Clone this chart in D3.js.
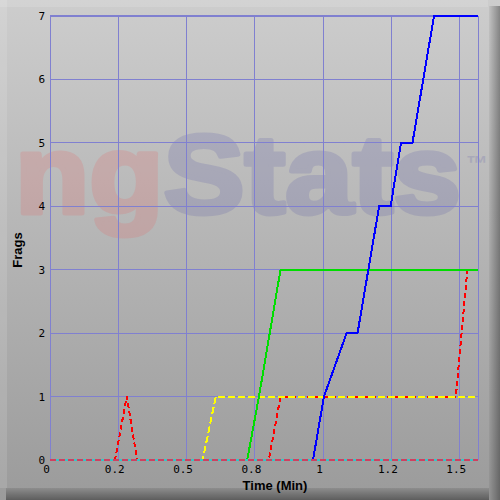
<html>
  <head>
    <script src="https://d3js.org/d3.v7.min.js"></script>
  </head>
  <body style="margin:0;">
    <div id="chart" style="width:500px;height:500px;"></div>
    <script>
      // data (time in minutes, cumulative frags)
      const xTicks = [0, 0.25, 0.5, 0.75, 1, 1.25, 1.5];
      const xTickLabels = ["0", "0.2", "0.5", "0.8", "1", "1.2", "1.5"];
      const yTicks = [0, 1, 2, 3, 4, 5, 6, 7];

      const redTimes = [0, 0.238, 0.281, 0.319, 0.801, 0.844, 1.486, 1.528];
      const redFrags = [0, 0, 1, 0, 0, 1, 1, 3];
      const yellowTimes = [0, 0.559, 0.607, 1.567];
      const yellowFrags = [0, 0, 1, 1];
      const greenTimes = [0, 0.722, 0.765, 0.844, 1.567];
      const greenFrags = [0, 0, 1, 3, 3];
      const blueTimes = [0, 0.963, 1.003, 1.086, 1.126, 1.205, 1.247, 1.285, 1.327, 1.406, 1.567];
      const blueFrags = [0, 0, 1, 2, 2, 4, 4, 5, 5, 7, 7];

      const width = 500, height = 500;
      const margin = {top: 16, right: 22, bottom: 40, left: 50};

      const svg = d3.create('svg')
        .attr('width', width)
        .attr('height', height)
        .style('display', 'block');

      const defs = svg.append('defs');
      const bg = defs.append('linearGradient').attr('id', 'bg')
        .attr('x1', 0).attr('y1', 0).attr('x2', 0).attr('y2', 1);
      bg.append('stop').attr('offset', '0%').attr('stop-color', '#cdcdcd');
      bg.append('stop').attr('offset', '100%').attr('stop-color', '#9b9b9b');
      const shR = defs.append('linearGradient').attr('id', 'shR')
        .attr('x1', 0).attr('y1', 0).attr('x2', 1).attr('y2', 0);
      shR.append('stop').attr('offset', '0%').attr('stop-color', '#000').attr('stop-opacity', 0.05);
      shR.append('stop').attr('offset', '100%').attr('stop-color', '#000').attr('stop-opacity', 0.35);
      const shB = defs.append('linearGradient').attr('id', 'shB')
        .attr('x1', 0).attr('y1', 0).attr('x2', 0).attr('y2', 1);
      shB.append('stop').attr('offset', '0%').attr('stop-color', '#000').attr('stop-opacity', 0.1);
      shB.append('stop').attr('offset', '100%').attr('stop-color', '#000').attr('stop-opacity', 0.4);

      // panel + bevel
      svg.append('rect').attr('width', width).attr('height', height).attr('fill', 'url(#bg)');
      svg.append('rect').attr('x', 0).attr('y', 0).attr('width', 488).attr('height', 7)
        .attr('fill', '#fff').attr('opacity', 0.12);
      svg.append('rect').attr('x', 0).attr('y', 0).attr('width', 7).attr('height', 488)
        .attr('fill', '#fff').attr('opacity', 0.12);
      svg.append('rect').attr('x', 489).attr('y', 6).attr('width', 11).attr('height', 494)
        .attr('fill', 'url(#shR)');
      svg.append('rect').attr('x', 6).attr('y', 488).attr('width', 483).attr('height', 12)
        .attr('fill', 'url(#shB)');

      // watermark
      const wmG = svg.append('g').attr('opacity', 0.2);
      const wm = wmG.append('text')
        .attr('x', 15).attr('y', 213)
        .attr('font-family', 'Liberation Sans, Arial, sans-serif')
        .attr('font-weight', 'bold')
        .attr('font-size', 112)
        .attr('stroke-width', 5)
        .attr('stroke-linejoin', 'round')
        .attr('textLength', 446)
        .attr('lengthAdjust', 'spacingAndGlyphs');
      wm.append('tspan').text('ng').attr('fill', '#e86464').attr('stroke', '#e86464');
      wm.append('tspan').text('Stats').attr('fill', '#5a5aa8').attr('stroke', '#5a5aa8');
      wmG.append('text').attr('x', 466).attr('y', 171)
        .attr('font-family', 'Liberation Sans, Arial, sans-serif')
        .attr('font-weight', 'bold').attr('font-size', 22)
        .attr('fill', '#5a5aa8')
        .text('\u2122');

      const xScale = d3.scaleLinear()
        .domain([0, 1.567])
        .range([margin.left, width - margin.right]);
      const yScale = d3.scaleLinear()
        .domain([0, 7])
        .range([height - margin.bottom, margin.top]);

      // grid
      const grid = svg.append('g').attr('stroke', '#8080d0').attr('shape-rendering', 'crispEdges');
      grid.selectAll('.gx').data(xTicks).enter().append('line')
        .attr('x1', d => xScale(d)).attr('x2', d => xScale(d))
        .attr('y1', yScale(7)).attr('y2', yScale(0));
      grid.append('line')
        .attr('x1', xScale(1.567)).attr('x2', xScale(1.567))
        .attr('y1', yScale(7)).attr('y2', yScale(0));
      grid.selectAll('.gy').data(yTicks).enter().append('line')
        .attr('x1', xScale(0)).attr('x2', xScale(1.567))
        .attr('y1', d => yScale(d)).attr('y2', d => yScale(d))
        .attr('stroke-width', d => d === 7 ? 2 : 1);

      // axes labels
      const axX = svg.append('g')
        .attr('transform', `translate(-4, ${height - margin.bottom})`)
        .call(d3.axisBottom(xScale).tickValues(xTicks)
          .tickFormat((d, i) => xTickLabels[i]).tickSize(0).tickPadding(5));
      const axY = svg.append('g')
        .attr('transform', `translate(${margin.left - 5}, 0)`)
        .call(d3.axisLeft(yScale).tickValues(yTicks).tickFormat(d3.format('d'))
          .tickSize(0).tickPadding(0));
      [axX, axY].forEach(a => {
        a.select('.domain').remove();
        a.selectAll('text')
          .attr('font-family', 'DejaVu Sans Mono, monospace')
          .attr('font-size', 11)
          .attr('fill', '#000');
      });

      svg.append('text')
        .attr('x', 275).attr('y', 490)
        .attr('text-anchor', 'middle')
        .attr('font-family', 'Liberation Sans, Arial, sans-serif')
        .attr('font-weight', 'bold').attr('font-size', 13)
        .text('Time (Min)');
      svg.append('text')
        .attr('transform', 'translate(22, 250) rotate(-90)')
        .attr('text-anchor', 'middle')
        .attr('font-family', 'Liberation Sans, Arial, sans-serif')
        .attr('font-weight', 'bold').attr('font-size', 13)
        .text('Frags');

      const line = d3.line().x(d => xScale(d[0])).y(d => yScale(d[1]));
      const series = [
        {t: redTimes, v: redFrags, color: '#ff0000', dash: '5,3'},
        {t: yellowTimes, v: yellowFrags, color: '#ffff00', dash: '7,3'},
        {t: greenTimes, v: greenFrags, color: '#00dd00', dash: null},
        {t: blueTimes, v: blueFrags, color: '#0000ff', dash: null}
      ];
      svg.append('g').selectAll('path')
        .data(series).enter().append('path')
        .attr('d', s => line(s.t.map((t, i) => [t, s.v[i]])))
        .attr('fill', 'none')
        .attr('stroke', s => s.color)
        .attr('stroke-width', 2)
        .attr('stroke-dasharray', s => s.dash)
        .attr('shape-rendering', 'crispEdges');

      // baseline (pink dashes over cyan)
      svg.append('line')
        .attr('x1', xScale(0)).attr('x2', xScale(1.567))
        .attr('y1', yScale(0)).attr('y2', yScale(0))
        .attr('stroke', '#30c8c8').attr('stroke-width', 1.5)
        .attr('shape-rendering', 'crispEdges');
      svg.append('line')
        .attr('x1', xScale(0)).attr('x2', xScale(1.567))
        .attr('y1', yScale(0)).attr('y2', yScale(0))
        .attr('stroke', '#d04060').attr('stroke-width', 1.5)
        .attr('stroke-dasharray', '6,3')
        .attr('shape-rendering', 'crispEdges');

      document.getElementById("chart").appendChild(svg.node());
    </script>
  </body>
</html>
